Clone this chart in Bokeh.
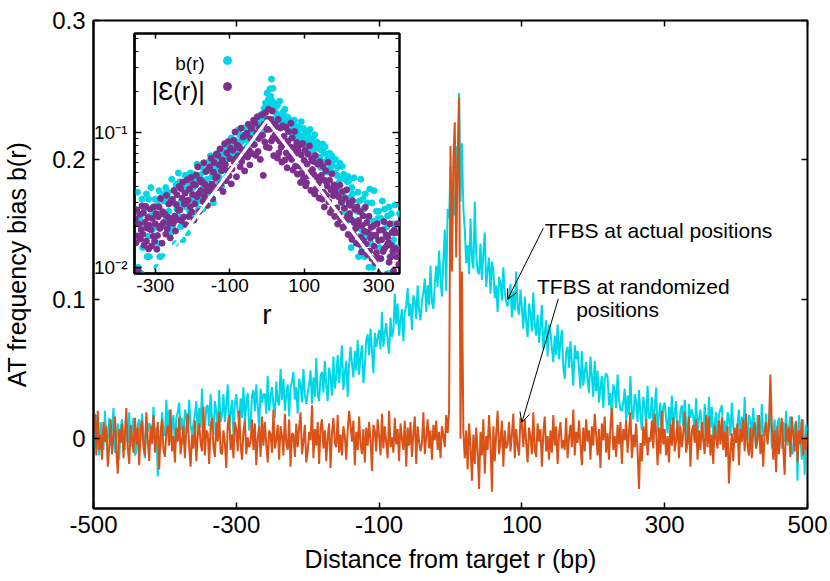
from bokeh.plotting import figure
from bokeh.models import (Range1d, FixedTicker, LinearAxis, LogAxis, Label, Arrow,
                          OpenHead, Legend, LegendItem)
from bokeh.layouts import column
from bokeh.embed import file_html
from bokeh.resources import INLINE

FONT = "Liberation Sans"
CYAN = "#00D7E6"
ORANGE = "#D95319"
PURPLE = "#7E2F8E"

# ---------------- data ----------------
r_main = list(range(-500, 501, 2))

# b(r) for TFBS at actual positions (units of 1e-3)
b_actual_milli = [
    9,-6,17,-1,-12,12,5,-8,20,-3,
    0,15,-5,7,22,-10,2,11,-15,8,
    14,2,-8,11,-3,19,-6,7,15,-12,
    -9,10,14,-1,18,2,-14,15,5,11,
    10,-4,23,-2,8,-27,2,-7,19,5,
    2,28,6,21,-2,9,17,-6,15,19,
    26,6,15,-4,21,17,4,28,10,3,
    11,17,27,3,22,8,36,10,5,23,
    24,9,32,14,3,27,20,7,35,12,
    17,32,12,24,39,7,19,28,2,25,
    32,20,10,29,15,37,12,25,33,6,
    12,31,35,20,39,23,7,36,26,32,
    32,18,45,20,30,37,24,15,41,27,
    24,50,28,43,20,31,39,16,37,41,
    48,28,37,18,43,39,26,50,32,25,
    33,39,49,25,44,30,58,32,27,45,
    48,33,56,38,27,51,44,31,59,36,
    45,60,40,52,67,35,47,56,30,53,
    66,54,44,63,49,71,46,59,67,40,
    52,71,75,60,79,63,47,76,66,72,
    78,64,91,66,76,83,70,61,87,73,
    78,104,82,97,74,85,93,70,91,95,
    108,88,97,78,103,99,86,110,92,85,
    99,105,115,91,110,96,124,98,93,111,
    124,109,135,114,102,128,150,106,165,158,
    195,150,175,160,210,185,248,170,212,165,
    150,126,139,118,158,130,122,170,132,120,
    118,140,114,133,148,109,121,130,104,127,
    121,101,110,91,116,112,99,123,105,98,
    95,101,111,87,106,92,120,94,89,107,
    94,79,102,84,73,97,90,77,105,82,
    74,89,69,81,96,64,76,85,59,82,
    77,65,55,74,60,82,57,70,78,51,
    43,62,66,51,70,54,38,67,57,63,
    50,36,63,38,48,55,42,33,59,45,
    30,56,34,49,26,37,45,22,43,47,
    44,24,33,14,39,35,22,46,28,21,
    20,26,36,12,31,17,45,19,14,32,
    27,12,35,17,6,30,23,10,38,15,
    15,30,10,22,37,5,17,26,0,23,
    26,14,4,23,9,31,6,19,27,0,
    1,20,24,9,28,12,-4,25,15,21,
    16,2,29,4,14,21,8,-1,25,11,
    4,30,8,23,0,11,19,-4,17,21,
    24,4,13,-6,19,15,2,26,8,1,
    5,11,21,-3,16,2,30,4,-1,17,
    14,-1,22,4,-7,17,10,-3,25,2,
    3,18,-2,10,25,-7,5,14,-12,11,
    15,3,-7,12,-2,20,-5,8,16,-11,
    -10,9,13,-30,17,1,-15,14,-26,10,
    6,
]

# b(r) for TFBS at randomized positions (units of 1e-3)
b_random_milli = [
    5,18,-12,20,-8,3,-15,12,-2,9,
    -20,-6,14,-11,2,16,-9,-25,7,-3,
    11,-14,4,22,-7,-18,10,1,-10,15,
    -4,8,-19,6,13,-6,-12,19,-1,-16,
    9,-3,17,-10,0,12,-22,5,14,-8,
    -13,4,10,-5,21,-9,2,-17,8,-2,
    16,-11,-1,9,-14,7,18,-6,-20,3,
    -7,13,-16,2,11,-3,-9,23,-12,6,
    4,-18,8,15,-6,-13,12,-2,19,-10,
    -11,6,-3,-21,10,17,-8,3,-14,12,
    7,-9,20,-4,-15,5,13,-11,1,-6,
    -2,14,-8,11,-19,0,9,-13,16,-5,
    12,-4,-17,6,3,-10,21,-7,-1,10,
    -15,9,2,-12,18,-3,-8,14,-20,4,
    3,-13,11,-6,8,19,-11,-2,10,-17,
    -9,5,-1,24,-14,7,-5,12,-18,8,
    14,-7,6,-16,1,11,-21,4,15,-3,
    -6,17,-10,3,-12,9,2,-15,6,20,
    10,-2,13,-19,5,-8,16,-4,-11,7,
    -17,8,-5,12,-1,-23,10,6,-9,14,
    2,-12,18,-7,9,-3,-14,20,-6,1,
    -10,15,-4,7,-16,11,0,-8,13,-20,
    8,-5,12,-13,4,16,-18,9,-2,-9,
    -3,19,-11,1,14,-7,6,-15,10,-1,
    13,-8,5,-14,9,2,-6,17,4,20,
    210,120,200,227,130,200,245,0,120,5,
    -14,6,-22,11,-5,-30,3,-18,8,-9,
    -36,5,-12,14,-25,2,-8,17,-3,-38,
    9,-16,4,20,-11,-2,13,-20,6,-7,
    -4,12,-9,3,18,-14,7,-5,-12,15,
    10,-6,14,-3,-17,8,1,-11,19,-8,
    -13,11,-2,7,-20,4,16,-9,2,-15,
    6,-10,17,-5,9,-18,3,12,-7,-1,
    -8,15,-14,1,10,-6,21,-12,5,-3,
    13,-4,-19,8,-9,14,-2,6,-15,9,
    -5,18,3,-12,7,-21,11,-1,16,-10,
    4,-15,9,22,-8,2,-13,10,-4,12,
    -18,7,-1,13,-10,5,19,-14,3,-6,
    11,-9,-36,-3,-16,9,-5,14,-12,1,
    -2,13,-7,18,4,-19,8,-11,20,-4,
    7,-12,2,-17,11,-5,15,-9,-1,13,
    -14,9,-6,4,19,-10,-3,16,-20,5,
    10,-3,14,-15,6,-8,12,-1,-11,17,
    -6,16,-12,3,-18,10,1,-7,13,-4,
    15,-8,5,-13,9,-32,-10,4,-16,8,
    -3,11,-19,7,-2,14,-9,18,-5,-12,
    8,-14,6,12,-7,-1,17,-11,3,-20,
    5,12,-4,9,46,10,-15,6,-24,9,
    -11,4,15,-6,-26,11,-2,8,-13,16,
    3,-9,12,-17,6,-4,14,-12,1,-8,
    4,
]

# inset: |epsilon(r)| (units of 1e-4)
r_inset = list(range(-354, 355, 2))
eps_abs_e4 = [
    228,152,266,171,95,209,247,162,190,285,
    176,254,146,215,283,156,195,234,137,205,
    270,190,144,230,170,280,156,210,250,136,
    172,237,280,194,323,204,151,258,215,247,
    247,176,341,193,235,294,212,165,306,223,
    318,212,371,239,186,292,345,225,265,398,
    266,384,221,325,428,236,295,354,207,310,
    446,314,238,380,281,462,257,347,413,224,
    296,407,481,333,555,352,259,444,370,426,
    431,308,595,336,410,513,369,287,533,390,
    552,368,644,414,322,506,598,391,460,690,
    468,676,390,572,754,416,520,624,364,546,
    824,580,439,702,519,854,476,641,763,415,
    536,737,871,603,1005,637,469,804,670,771,
    777,555,1073,607,740,925,666,518,962,703,
    984,656,1148,738,574,902,1066,697,820,1230,
    810,1170,675,990,1305,720,900,1080,630,945,
    1350,950,480,1150,850,1400,780,1050,1250,1480,
    768,1056,1248,864,1440,912,672,1152,960,1104,
    903,645,1247,705,860,1075,774,602,1118,817,
    936,624,1092,702,546,858,1014,663,780,1170,
    630,910,525,770,1015,560,700,840,490,735,
    797,561,425,679,502,826,460,620,738,401,
    424,583,689,477,795,504,371,636,530,610,
    488,349,674,381,465,581,419,326,605,442,
    480,320,560,360,280,440,520,340,400,600,
    306,442,255,374,493,272,340,408,238,357,
    392,276,209,334,247,406,226,305,363,197,
    200,275,325,225,375,238,175,300,250,288,
    226,161,312,176,215,269,194,151,280,204,
    222,148,259,167,130,204,241,157,185,278,
    149,215,124,182,239,132,165,198,116,173,
    203,143,108,173,128,210,117,158,188,92,
    116,160,189,131,218,138,88,174,145,167,
    152,109,210,119,145,181,131,94,189,138,
    180,120,210,135,105,
]

# exponential fit shown as white line in inset
fit_r = [-297, 0, 314]
fit_v = [0.0095, 0.1227, 0.0091]

x_ticks = [-500, -300, -100, 100, 300, 500]
y_ticks = [0, 0.1, 0.2, 0.3]
inset_x_ticks = [-300, -100, 100, 300]
inset_y_ticks = [0.01, 0.1]
inset_y_minor = [0.02, 0.03, 0.04, 0.05, 0.06, 0.07, 0.08, 0.09, 0.2, 0.3, 0.4, 0.5]
inset_y_labels = {0.01: "10\u207b\u00b2", 0.1: "10\u207b\u00b9"}

assert len(b_actual_milli) == len(r_main)
assert len(b_random_milli) == len(r_main)
assert len(eps_abs_e4) == len(r_inset)

b_actual = [v / 1000 for v in b_actual_milli]
b_random = [v / 1000 for v in b_random_milli]
eps_abs = [v / 10000 for v in eps_abs_e4]
ins_b_r = [r for r, v in zip(r_main, b_actual) if abs(r) <= 356 and v > 0]
ins_b_v = [v for r, v in zip(r_main, b_actual) if abs(r) <= 356 and v > 0]

# ---------------- main figure ----------------
p = figure(width=830, height=581, x_range=Range1d(-500, 500), y_range=Range1d(-0.05, 0.3),
           output_backend="svg", toolbar_location=None,
           min_border_left=90, min_border_right=23, min_border_top=20, min_border_bottom=73)
p.grid.visible = False
p.outline_line_color = "black"
p.outline_line_width = 2
p.background_fill_color = "white"
p.border_fill_color = "white"


def style_axis(ax, tick_len, label_size):
    ax.axis_line_color = "black"
    ax.axis_line_width = 2
    ax.major_tick_in = tick_len
    ax.major_tick_out = 0
    ax.major_tick_line_width = 1.5
    ax.major_tick_line_color = "black"
    ax.minor_tick_line_color = None
    ax.major_label_text_font = FONT
    ax.major_label_text_font_size = label_size
    ax.major_label_text_color = "black"
    ax.axis_label_text_font = FONT
    ax.axis_label_text_font_style = "normal"
    ax.axis_label_text_color = "black"


for ax in p.xaxis + p.yaxis:
    style_axis(ax, 6, "24px")
    ax.axis_label_text_font_size = "25px"
p.xaxis.ticker = FixedTicker(ticks=x_ticks)
p.xaxis.major_label_overrides = {t: str(t) for t in x_ticks}
p.xaxis.axis_label = "Distance from target r (bp)"
p.xaxis.major_label_standoff = 7
p.xaxis.axis_label_standoff = 9
p.yaxis.ticker = FixedTicker(ticks=y_ticks)
p.yaxis.major_label_overrides = {0: "0"}
p.yaxis.axis_label = "AT frequency bias b(r)"
p.yaxis.major_label_standoff = 8
p.yaxis.axis_label_standoff = 18

top_ax = LinearAxis(ticker=FixedTicker(ticks=x_ticks),
                    major_label_overrides={t: "" for t in x_ticks})
right_ax = LinearAxis(ticker=FixedTicker(ticks=y_ticks),
                      major_label_overrides={t: "" for t in y_ticks})
for ax in (top_ax, right_ax):
    style_axis(ax, 6, "1px")
    ax.major_label_standoff = 0
    ax.axis_line_color = None
p.add_layout(top_ax, "above")
p.add_layout(right_ax, "right")

p.line(r_main, b_actual, line_color=CYAN, line_width=2)
p.line(r_main, b_random, line_color=ORANGE, line_width=2)

p.add_layout(Label(x=132, y=0.1495, text="TFBS at actual positions", text_font=FONT,
                   text_font_size="21px", text_align="left", text_baseline="middle",
                   text_color="black"))
p.add_layout(Label(x=256, y=0.1094, text="TFBS at randomized", text_font=FONT,
                   text_font_size="21px", text_align="center", text_baseline="middle",
                   text_color="black"))
p.add_layout(Label(x=234, y=0.093, text="positions", text_font=FONT,
                   text_font_size="21px", text_align="center", text_baseline="middle",
                   text_color="black"))
p.add_layout(Arrow(x_start=130, y_start=0.151, x_end=80, y_end=0.100,
                   end=OpenHead(size=10, line_width=1, line_color="black"),
                   line_width=1, line_color="black"))
p.add_layout(Arrow(x_start=151, y_start=0.1004, x_end=100, y_end=0.0117,
                   end=OpenHead(size=10, line_width=1, line_color="black"),
                   line_width=1, line_color="black"))

# ---------------- inset ----------------
# The column aligns the side borders of its children with the main figure
# (left 90, right 23), so the inset canvas is sized to put its frame at 131..399.
q = figure(width=381, height=310, x_range=Range1d(-356, 356), y_range=Range1d(0.009, 0.54),
           y_axis_type="log", output_backend="svg", toolbar_location=None,
           min_border_left=90, min_border_right=23, min_border_top=8, min_border_bottom=62)
q.styles = {"position": "absolute", "left": "41px", "top": "25px", "z-index": "5"}
q.grid.visible = False
q.background_fill_color = "white"
q.border_fill_color = None
q.outline_line_color = "black"
q.outline_line_width = 2.5

for ax in q.xaxis + q.yaxis:
    style_axis(ax, 5, "19px")
q.xaxis.ticker = FixedTicker(ticks=inset_x_ticks)
q.xaxis.major_label_overrides = {t: str(t) for t in inset_x_ticks}
q.xaxis.major_label_standoff = 5
q.xaxis.axis_label = "r"
q.xaxis.axis_label_text_font_size = "28px"
q.xaxis.axis_label_standoff = 4
q.yaxis.ticker = FixedTicker(ticks=inset_y_ticks, minor_ticks=inset_y_minor)
q.yaxis.major_label_overrides = inset_y_labels
q.yaxis.major_label_standoff = 7
q.yaxis.major_tick_in = 7
q.yaxis.minor_tick_line_color = "black"
q.yaxis.minor_tick_in = 4
q.yaxis.minor_tick_out = 0

itop = LinearAxis(ticker=FixedTicker(ticks=inset_x_ticks),
                  major_label_overrides={t: "" for t in inset_x_ticks})
iright = LogAxis(ticker=FixedTicker(ticks=inset_y_ticks, minor_ticks=inset_y_minor),
                 major_label_overrides={t: "" for t in inset_y_ticks})
for ax in (itop, iright):
    style_axis(ax, 5, "1px")
    ax.major_label_standoff = 0
    ax.axis_line_color = None
iright.major_tick_in = 7
iright.minor_tick_line_color = "black"
iright.minor_tick_in = 4
iright.minor_tick_out = 0
q.add_layout(itop, "above")
q.add_layout(iright, "right")

cy = q.scatter(ins_b_r, ins_b_v, size=6, color=CYAN, marker="circle")
pu = q.scatter(r_inset, eps_abs, size=6, color=PURPLE, marker="circle")
q.line(fit_r, fit_v, line_color="white", line_width=3)

leg = Legend(items=[LegendItem(label=" ", renderers=[cy]),
                    LegendItem(label=" ", renderers=[pu])],
             location=(83, 177), glyph_width=20, glyph_height=20, label_height=20,
             label_width=0, label_standoff=0, spacing=6, padding=10,
             border_line_color=None, background_fill_alpha=0,
             label_text_font_size="1px")
q.add_layout(leg)
q.add_layout(Label(x=-167, y=0.324, text="b(r)",
                   text_font=FONT, text_font_size="19px", text_align="right",
                   text_baseline="middle", text_color="black"))
q.add_layout(Label(x=-167, y=0.204, text="|\u0190(r)|",
                   text_font=FONT, text_font_size="25px", text_align="right",
                   text_baseline="middle", text_color="black"))

layout = column(p, q)
open("out.html", "w").write(file_html(layout, INLINE))
